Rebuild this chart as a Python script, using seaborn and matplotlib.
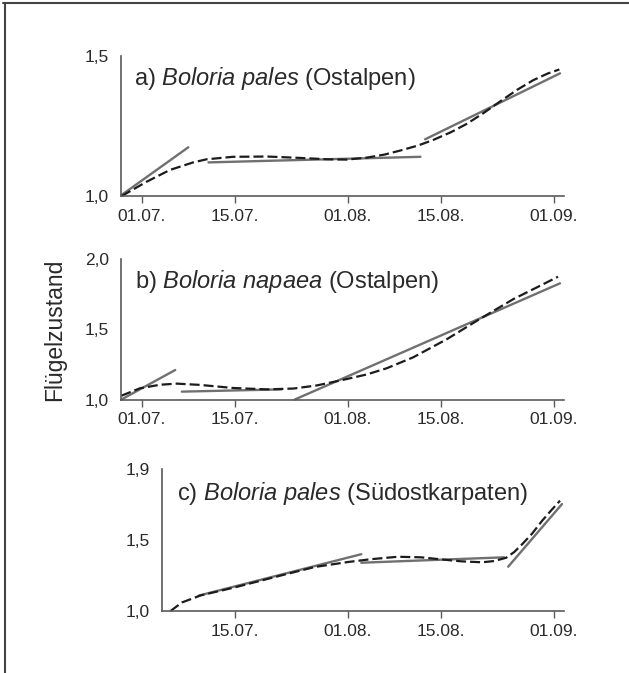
import numpy as np
import pandas as pd
import matplotlib
matplotlib.use("Agg")
import matplotlib.pyplot as plt
from matplotlib.lines import Line2D
import seaborn as sns

# x in days after 01.07.
tick_days = [0, 14, 31, 45, 62]
tick_labels = ["01.07.", "15.07.", "01.08.", "15.08.", "01.09."]

# a) Boloria pales (Ostalpen)
a_curve_day = [-3.05, 0.7, 4.2, 7.7, 9.7, 13.7, 18.8, 23.8, 28, 30.8, 33.8, 36.5,
               38.8, 41.5, 43.8, 46.5, 48.9, 51.5, 53.9, 56.5, 58.9, 61, 62.8]
a_curve_val = [1.0, 1.051, 1.093, 1.120, 1.131, 1.140, 1.141, 1.136, 1.131, 1.130, 1.137, 1.148,
               1.162, 1.180, 1.200, 1.228, 1.258, 1.298, 1.338, 1.380, 1.414, 1.437, 1.452]
a_seg_day = [[-3.05, 6.97], [10.0, 41.9], [42.6, 62.9]]
a_seg_val = [[1.004, 1.174], [1.120, 1.140], [1.2025, 1.438]]

# b) Boloria napaea (Ostalpen)
b_curve_day = [-3.1, -0.3, 2.7, 5.2, 8.7, 13.7, 18.8, 22.8, 26.3, 29.8, 33.8, 36.8,
               40.8, 45.9, 50.9, 55.9, 59.5, 62.6]
b_curve_val = [1.027, 1.08, 1.105, 1.113, 1.104, 1.082, 1.072, 1.078, 1.100, 1.135, 1.178, 1.222,
               1.300, 1.430, 1.575, 1.715, 1.800, 1.874]
b_seg_day = [[-3.1, 5.0], [6.0, 21.0], [23.0, 62.9]]
b_seg_val = [[1.0, 1.21], [1.056, 1.072], [1.0, 1.827]]

# c) Boloria pales (Suedostkarpaten)
c_curve_day = [4.3, 6.0, 8.85, 13.85, 20.9, 26, 31.0, 34.5, 38.5, 42, 44.9, 48,
               51.2, 53, 54.8, 56, 57.2, 58.7, 60.2, 61.6, 62.9]
c_curve_val = [1.0, 1.06, 1.11, 1.165, 1.25, 1.31, 1.345, 1.365, 1.382, 1.378, 1.364, 1.35,
               1.343, 1.352, 1.375, 1.415, 1.47, 1.545, 1.635, 1.71, 1.777]
c_seg_day = [[8.5, 33.0], [33.0, 54.5], [55.1, 63.2]]
c_seg_val = [[1.108, 1.40], [1.34, 1.378], [1.312, 1.753]]

panels = [
    dict(curve=(a_curve_day, a_curve_val), segs=(a_seg_day, a_seg_val),
         title=r"a) $\mathit{Boloria\ pales}$ (Ostalpen)",
         yticks=[1.0, 1.5], ylabels=["1,0", "1,5"], ylim=(1.0, 1.5),
         xticks=tick_days, xlabels=tick_labels, xlim=(-3.16, 63.5),
         rect=[121/629, 1-196/673, 443/629, 140/673], tpos=(0.029, 0.793)),
    dict(curve=(b_curve_day, b_curve_val), segs=(b_seg_day, b_seg_val),
         title=r"b) $\mathit{Boloria\ napaea}$ (Ostalpen)",
         yticks=[1.0, 1.5, 2.0], ylabels=["1,0", "1,5", "2,0"], ylim=(1.0, 2.0),
         xticks=tick_days, xlabels=tick_labels, xlim=(-3.16, 63.5),
         rect=[121/629, 1-399.5/673, 443/629, 140.5/673], tpos=(0.032, 0.796)),
    dict(curve=(c_curve_day, c_curve_val), segs=(c_seg_day, c_seg_val),
         title=r"c) $\mathit{Boloria\ pales}$ (Südostkarpaten)",
         yticks=[1.0, 1.5, 2.0], ylabels=["1,0", "1,5", "1,9"], ylim=(1.0, 2.0),
         xticks=tick_days[1:], xlabels=tick_labels[1:], xlim=(3.01, 63.5),
         rect=[162/629, 1-611/673, 402/629, 142/673], tpos=(0.037, 0.78)),
]

sns.set_theme(style="white")
plt.rcParams['font.family'] = ['Liberation Sans', 'DejaVu Sans']
plt.rcParams['mathtext.fontset'] = 'custom'
plt.rcParams['mathtext.rm'] = 'Liberation Sans'
plt.rcParams['mathtext.it'] = 'Liberation Sans:italic'

solid_col = "#707070"
dash_col = "#1c1c1c"
axis_col = "#5a5a5a"
text_col = "#2a2a2a"

fig = plt.figure(figsize=(6.29, 6.73), dpi=100)

for p in panels:
    ax = fig.add_axes(p["rect"])
    for d, v in zip(*p["segs"]):
        sns.lineplot(x=d, y=v, ax=ax, color=solid_col, linewidth=1.7, clip_on=False)
    sns.lineplot(x=p["curve"][0], y=p["curve"][1], ax=ax, color=dash_col,
                 linewidth=1.6, linestyle=(0, (4.5, 1.8)), clip_on=False)
    ax.set_xlim(p["xlim"])
    ax.set_ylim(p["ylim"])
    ax.set_xticks(p["xticks"], p["xlabels"])
    ax.set_yticks(p["yticks"], p["ylabels"])
    ax.set_xlabel("")
    ax.set_ylabel("")
    for s in ["top", "right"]:
        ax.spines[s].set_visible(False)
    for s in ["left", "bottom"]:
        ax.spines[s].set_color(axis_col)
        ax.spines[s].set_linewidth(1.2)
    ax.tick_params(axis="x", length=5, width=1, color=axis_col, direction="out",
                   pad=4, labelsize=12.5, labelcolor=text_col, bottom=True)
    ax.tick_params(axis="y", length=0, pad=8.5, labelsize=12.5, labelcolor=text_col)
    ax.text(p["tpos"][0], p["tpos"][1], p["title"], transform=ax.transAxes,
            fontsize=17, color=text_col, ha="left", va="baseline")

fig.text(55/629, 1-330/673, "Flügelzustand", rotation=90, ha="center", va="center",
         fontsize=16.5, color=text_col)

# frame (top and left only)
fig.add_artist(Line2D([3/629, 1], [1-3/673, 1-3/673], transform=fig.transFigure,
                      color="#444444", linewidth=1.5))
fig.add_artist(Line2D([4.5/629, 4.5/629], [0, 1-3/673], transform=fig.transFigure,
                      color="#444444", linewidth=1.5))

fig.savefig("out.png", dpi=100)
